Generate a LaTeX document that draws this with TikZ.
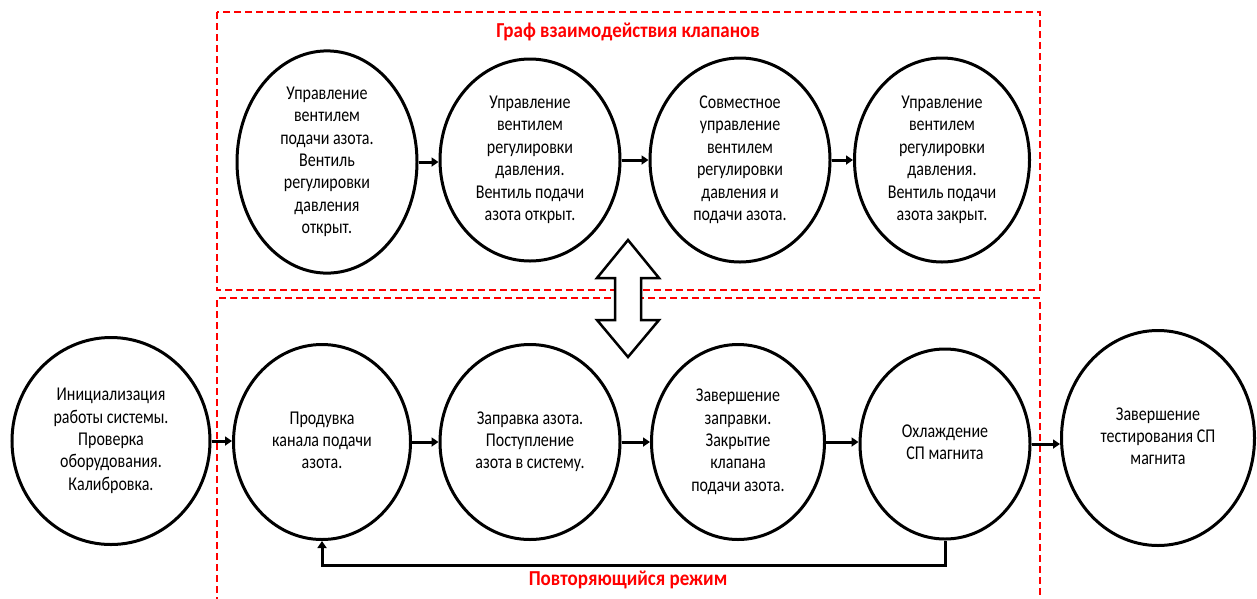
\documentclass[tikz,border=0pt]{standalone}
\usepackage{fontspec}
\usepackage{graphicx}
\setmainfont{Carlito}
\usetikzlibrary{shapes.geometric,arrows.meta}
\newcommand{\mytext}[1]{\scalebox{1}[1.22]{\fontsize{16}{18.4}\selectfont\begin{tabular}{@{}c@{}}#1\end{tabular}}}
\newcommand{\mylbl}[1]{\scalebox{1}[1.12]{#1}}
\begin{document}
\begin{tikzpicture}[x=1pt,y=-1pt,
  st/.style={ellipse,draw,line width=3pt,inner sep=0pt,align=center},
  arr/.style={line width=3pt,-{Triangle[length=7pt,width=9pt]}},
  box/.style={draw=red,line width=2.5pt,dash pattern=on 7pt off 4pt},
  lbl/.style={text=red,font=\bfseries\fontsize{19}{22}\selectfont},
  dbl/.style={draw,line width=2.5pt,fill=white,line join=miter}]
\useasboundingbox (0,0) rectangle (1257,598);
% dashed boxes
\draw[box] (217,12) rectangle (1040,290);
\draw[box] (217,604) -- (217,298) -- (1040,298) -- (1040,604);
\node[lbl] (title) at (628,32) {\mylbl{Граф взаимодействия клапанов}};
\node[lbl] (rep) at (628,580) {\mylbl{Повторяющийся режим}};
% top row
\node[st,minimum width=180,minimum height=203] (t1) at (327,162) {\mytext{Управление\\вентилем\\подачи азота.\\Вентиль\\регулировки\\давления\\открыт.}};
\node[st,minimum width=180,minimum height=202] (t2) at (530,160) {\mytext{Управление\\вентилем\\регулировки\\давления.\\Вентиль подачи\\азота открыт.}};
\node[st,minimum width=180,minimum height=204] (t3) at (740,160) {\mytext{Совместное\\управление\\вентилем\\регулировки\\давления и\\подачи азота.}};
\node[st,minimum width=175,minimum height=204] (t4) at (942,160) {\mytext{Управление\\вентилем\\регулировки\\давления.\\Вентиль подачи\\азота закрыт.}};
% bottom row
\node[st,minimum width=198,minimum height=207] (b0) at (111,441) {\mytext{Инициализация\\работы системы.\\Проверка\\оборудования.\\Калибровка.}};
\node[st,minimum width=177,minimum height=195] (b1) at (322,442) {\mytext{Продувка\\канала подачи\\азота.}};
\node[st,minimum width=180,minimum height=195] (b2) at (530,442) {\mytext{Заправка азота.\\Поступление\\азота в систему.}};
\node[st,minimum width=173,minimum height=195] (b3) at (738,442) {\mytext{Завершение\\заправки.\\Закрытие\\клапана\\подачи азота.}};
\node[st,minimum width=170,minimum height=190] (b4) at (945,444) {\mytext{Охлаждение\\СП магнита}};
\node[st,minimum width=193,minimum height=215] (b5) at (1158,438) {\mytext{Завершение\\тестирования СП\\магнита}};
% arrows
\draw[arr] (t1.east) -- (t1.east -| t2.west);
\draw[arr] (t2.east) -- (t2.east -| t3.west);
\draw[arr] (t3.east) -- (t3.east -| t4.west);
\draw[arr] (b0.east) -- (b0.east -| b1.west);
\draw[arr] (b1.east) -- (b1.east -| b2.west);
\draw[arr] (b2.east) -- (b2.east -| b3.west);
\draw[arr] (b3.east) -- (b3.east -| b4.west);
\draw[arr] (b4.east) -- (b4.east -| b5.west);
\draw[arr] (b4.south) -- ++(0,25) -| (b1.south);
% double arrow between the groups
\draw[dbl] (628,240) -- (659,278) -- (641,278) -- (641,320) -- (659,320) -- (628,357) -- (597,320) -- (615,320) -- (615,278) -- (597,278) -- cycle;
\end{tikzpicture}
\end{document}
